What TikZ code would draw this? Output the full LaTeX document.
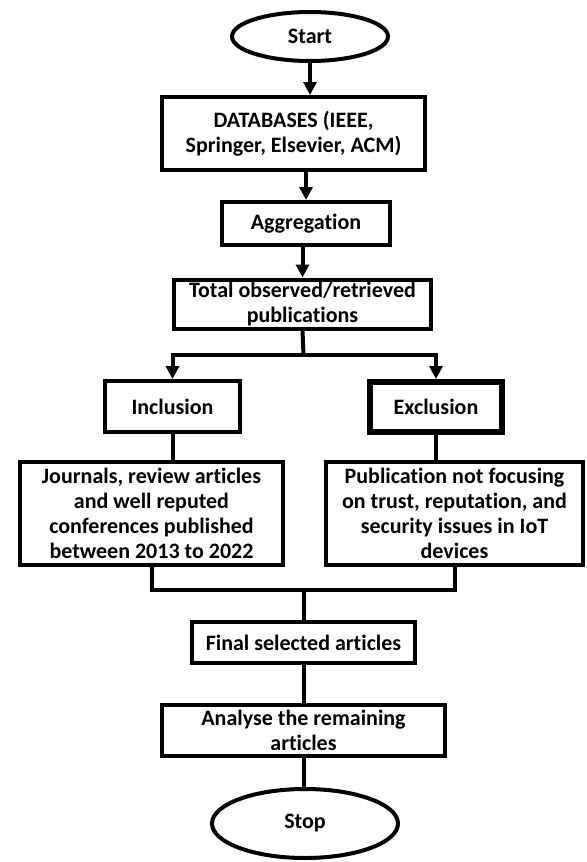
\documentclass[tikz,border=0pt]{standalone}
\usepackage{fontspec}
\setmainfont[Ligatures=NoCommon]{Carlito}
\usetikzlibrary{positioning,arrows.meta,shapes.geometric}
\tikzset{
  terminal/.style={ellipse, draw, line width=2pt, inner sep=0pt, font=\bfseries\fontsize{11}{12.6}\selectfont},
  procbox/.style={rectangle, draw, line width=2pt, inner sep=0pt, align=center, font=\bfseries\fontsize{11}{12.6}\selectfont},
  heavy/.style={line width=3pt},
  fwd/.style={-{Triangle[length=6.5pt,width=6.5pt]}, line width=2pt},
  link/.style={line width=2pt},
}

\begin{document}
\begin{tikzpicture}[x=0.5pt, y=-0.5pt]
  \useasboundingbox (0,0) rectangle (587,862);
  \node[terminal, minimum width=78pt, minimum height=24.5pt] (start) at (310,36.5) {Start};
  \node[procbox, minimum width=131.5pt, minimum height=36.5pt] (db) at (293.5,133.5) {DATABASES (IEEE,\\Springer, Elsevier, ACM)};
  \node[procbox, minimum width=84pt, minimum height=21.5pt] (agg) at (306,223.5) {Aggregation};
  \node[procbox, minimum width=128.5pt, minimum height=24.5pt] (total) at (302.5,304) {Total observed/retrieved\\publications};
  \node[procbox, minimum width=67.5pt, minimum height=25.5pt] (incl) at (172.5,406.5) {Inclusion};
  \node[procbox, heavy, minimum width=66pt, minimum height=25pt] (excl) at (436,407) {Exclusion};
  \node[procbox, minimum width=131.5pt, minimum height=51.5pt] (journ) at (151.5,513.5) {Journals, review articles\\and well reputed\\conferences published\\between 2013 to 2022};
  \node[procbox, minimum width=128.5pt, minimum height=51.5pt] (pub) at (454.5,513.5) {Publication not focusing\\on trust, reputation, and\\security issues in IoT\\devices};
  \node[procbox, minimum width=111.5pt, minimum height=20.5pt] (final) at (303.5,642.5) {Final selected articles};
  \node[procbox, minimum width=141.5pt, minimum height=25.5pt] (anal) at (303.5,730.5) {Analyse the remaining\\articles};
  \node[terminal, minimum width=93pt, minimum height=34.5pt] (stop) at (305,823.5) {Stop};

  \coordinate (split) at (303.5,355);
  \coordinate (join) at (303.5,590);

  \draw[fwd] (start.south) -- (start.south |- db.north);
  \draw[fwd] (agg.north |- db.south) -- (agg.north);
  \draw[fwd] (total.south |- agg.south) -- (total.north);
  \draw[link] (total.south) -- (split);
  \draw[fwd] (split) -| (incl.north);
  \draw[fwd] (split) -| (excl.north);
  \draw[link] (incl.south) -- (incl.south |- journ.north);
  \draw[link] (excl.south) -- (excl.south |- pub.north);
  \draw[link] (journ.south) |- (join) -| (pub.south);
  \draw[link] (join) -- (final.north);
  \draw[link] (final.south) -- (anal.north);
  \draw[link] (anal.south) -- (anal.south |- stop.north);
\end{tikzpicture}
\end{document}
